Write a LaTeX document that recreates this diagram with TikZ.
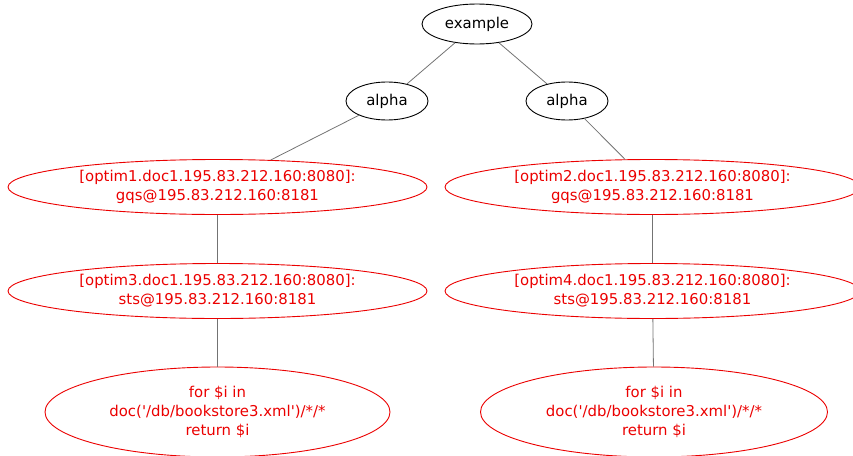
\documentclass[tikz,border=0pt]{standalone}
\usepackage{fontspec}
\setmainfont{DejaVu Sans}
\usetikzlibrary{shapes.geometric}
\definecolor{edgegray}{gray}{0.45}
\definecolor{gvred}{RGB}{235,0,0}
\tikzset{
  blacknode/.style={ellipse, draw=black, line width=0.9pt, inner sep=0pt, text=black,
    font=\fontsize{14.9}{18.5}\selectfont},
  rednode/.style={ellipse, draw=gvred, line width=0.9pt, inner sep=0pt, text=gvred, align=center,
    font=\fontsize{14.9}{18.8}\selectfont},
  conn/.style={draw=edgegray, line width=0.8pt}
}
\begin{document}
\begin{tikzpicture}[x=1pt,y=-1pt]
\useasboundingbox (0,0) rectangle (853,455);
\begin{scope}
\clip (0,0) rectangle (853,455);
\node[blacknode, minimum width=110pt, minimum height=40pt] (ex) at (477,24) {example};
\node[blacknode, minimum width=82pt, minimum height=38pt] (al) at (387,101) {alpha};
\node[blacknode, minimum width=82pt, minimum height=38pt] (ar) at (567,101) {alpha};
\node[rednode, minimum width=419pt, minimum height=55pt] (o1) at (217.5,187) {[optim1.doc1.195.83.212.160:8080]:\\gqs@195.83.212.160:8181};
\node[rednode, minimum width=415pt, minimum height=55pt] (o2) at (652.5,187) {[optim2.doc1.195.83.212.160:8080]:\\gqs@195.83.212.160:8181};
\node[rednode, minimum width=419pt, minimum height=55pt] (o3) at (217.5,291) {[optim3.doc1.195.83.212.160:8080]:\\sts@195.83.212.160:8181};
\node[rednode, minimum width=415pt, minimum height=55pt] (o4) at (652.5,291) {[optim4.doc1.195.83.212.160:8080]:\\sts@195.83.212.160:8181};
\node[rednode, minimum width=345pt, minimum height=90pt] (q1) at (217.5,412) {for \$i in\\doc(\textquotesingle/db/bookstore3.xml\textquotesingle)/*/*\\return \$i};
\node[rednode, minimum width=347pt, minimum height=90pt] (q2) at (654,412) {for \$i in\\doc(\textquotesingle/db/bookstore3.xml\textquotesingle)/*/*\\return \$i};
\draw[conn] (ex) -- (al);
\draw[conn] (ex) -- (ar);
\draw[conn] (al) -- (o1);
\draw[conn] (ar) -- (o2);
\draw[conn] (o1) -- (o3);
\draw[conn] (o2) -- (o4);
\draw[conn] (o3) -- (q1);
\draw[conn] (o4) -- (q2);
\end{scope}
\end{tikzpicture}
\end{document}
